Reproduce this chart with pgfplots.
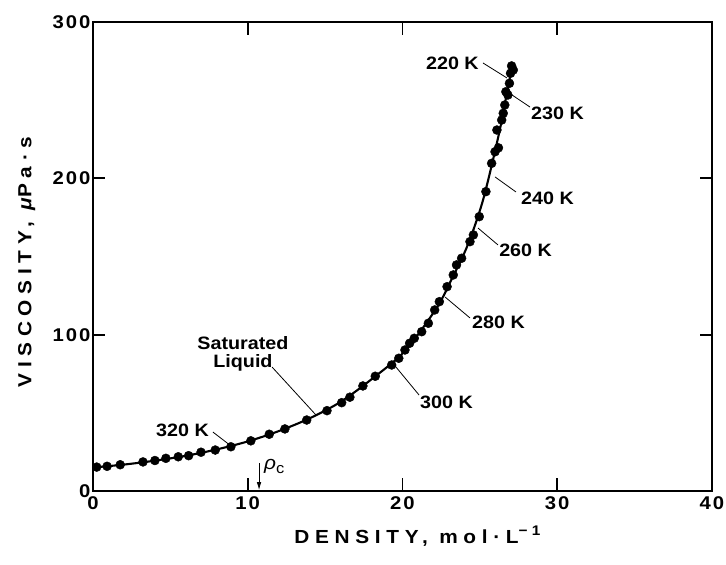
\documentclass[border=0pt]{standalone}
\usepackage{fontspec}
\usepackage{pgfplots}
\pgfplotsset{compat=1.18}
\usetikzlibrary{arrows.meta}
\setmainfont{Liberation Sans}
\newfontfamily\tickfont[FakeStretch=1.1,LetterSpace=11]{Liberation Sans}
\newfontfamily\labfont[FakeStretch=1.1]{Liberation Sans}
\newfontfamily\axfont[FakeStretch=1.1,LetterSpace=30]{Liberation Sans}
\begin{document}
\begin{tikzpicture}
\begin{axis}[name=ax, scale only axis, width=619bp, height=469bp,
  xmin=0, xmax=40, ymin=0, ymax=300,
  xtick={0,10,20,30,40}, ytick={0,100,200,300},
  tick pos=both, tick align=inside, major tick length=12bp,
  every tick/.style={black, line width=1.5pt},
  axis line style={line width=1.6pt},
  /pgf/number format/assume math mode=true,
  ticklabel style={font=\tickfont\bfseries\fontsize{18.5}{20}\selectfont},
  xticklabel style={yshift=-2bp},
  yticklabel style={xshift=1bp},
  clip=false,
  xlabel={\axfont\bfseries\fontsize{19}{22}\selectfont DENSITY, mol·L\raisebox{0.8ex}{\fontsize{14}{14}\selectfont −1}},
  xlabel style={at={(axis description cs:0.524,-0.1119)}, anchor=base},
  ylabel={\axfont\bfseries\fontsize{19}{22}\selectfont VISCOSITY, {\itshape μ}Pa·s},
  ylabel style={at={(axis description cs:-0.0994,0.488)}, anchor=base, rotate=0},
]
% correlation curve
\addplot[black, line width=2.1pt, smooth, tension=0.5] coordinates {
(0,15) (2,16.9) (4,19.4) (6,22.5) (8,26.6) (10,31.7) (12,38.3) (14,46.5)
(16,57) (18,71.5) (20.15,89.5) (22.2,117) (23.2,136) (24.2,157) (25.2,186)
(26.2,227) (26.7,252) (27.1,273)};
% experimental points
\addplot[only marks, mark=*, mark size=4.5bp, black] coordinates {
(0.24,15.3) (0.91,15.8) (1.76,16.8) (3.23,18.6) (4.0,19.5) (4.71,20.9)
(5.51,21.9) (6.18,22.6) (6.98,24.8) (7.9,26.2) (8.91,28.3) (10.2,32.1)
(11.39,36.3) (12.4,39.7) (13.81,45.4) (15.12,51.4) (16.07,56.5) (16.6,60.0)
(17.44,67.2) (18.24,73.4) (19.3,80.6) (19.76,84.9) (20.16,90.2) (20.46,94.5)
(20.76,97.7) (21.24,101.9) (21.67,107.3) (22.08,115.8) (22.38,121.1)
(22.88,130.7) (23.28,138.2) (23.49,144.6) (23.82,148.9) (24.36,159.5)
(24.58,163.8) (24.96,175.5) (25.39,191.5) (25.76,209.6) (25.98,217)
(26.2,219.5) (26.1,230.9) (26.41,237.3) (26.51,241.6) (26.61,246.9)
(26.68,255.4) (26.81,253.3) (26.91,260.8) (26.98,267.2) (27.16,269.3)
(27.05,271.9)};
% tick marks (inside, all four sides)
\tikzset{tk/.style={line width=2pt, black}}
\draw[tk] (axis cs:10,0) -- (axis cs:10,8);
\draw[tk] (axis cs:20,0) -- (axis cs:20,8);
\draw[tk] (axis cs:30,0) -- (axis cs:30,8);
\draw[tk] (axis cs:10,300) -- (axis cs:10,292);
\draw[tk] (axis cs:20,300) -- (axis cs:20,292);
\draw[tk] (axis cs:30,300) -- (axis cs:30,292);
\draw[tk] (axis cs:0,100) -- (axis cs:0.8,100);
\draw[tk] (axis cs:0,200) -- (axis cs:0.8,200);
\draw[tk] (axis cs:40,100) -- (axis cs:39.2,100);
\draw[tk] (axis cs:40,200) -- (axis cs:39.2,200);
% annotations
\tikzset{lab/.style={font=\labfont\bfseries\fontsize{18}{18}\selectfont, inner sep=0pt}}
\node[lab, anchor=east] at (axis cs:24.94,273.8) {220 K};
\draw[line width=0.8pt] (axis cs:25.2,273.8) -- (axis cs:26.75,264.2);
\node[lab, anchor=west] at (axis cs:28.3,241.8) {230 K};
\draw[line width=0.8pt] (axis cs:27.08,253.3) -- (axis cs:28.24,245.6);
\node[lab, anchor=west] at (axis cs:27.66,187.4) {240 K};
\draw[line width=0.8pt] (axis cs:25.98,200.9) -- (axis cs:27.33,191.3);
\node[lab, anchor=west] at (axis cs:26.24,154.2) {260 K};
\draw[line width=0.8pt] (axis cs:24.88,168.2) -- (axis cs:26.17,157.4);
\node[lab, anchor=west] at (axis cs:24.49,108.1) {280 K};
\draw[line width=0.8pt] (axis cs:22.75,124.1) -- (axis cs:24.36,110.7);
\node[lab, anchor=west] at (axis cs:21.13,56.9) {300 K};
\draw[line width=0.8pt] (axis cs:19.52,80) -- (axis cs:21.07,61.4);
\node[lab, anchor=east] at (axis cs:7.5,39) {320 K};
\draw[line width=0.8pt] (axis cs:7.75,37.7) -- (axis cs:8.92,28.8);
\node[lab, align=center, font=\labfont\bfseries\fontsize{18}{18.5}\selectfont] at (axis cs:9.69,87.6) {Saturated\\Liquid};
\draw[line width=0.8pt] (axis cs:11.57,79.3) -- (axis cs:14.41,48.6);
\draw[line width=0.9pt, -{Latex[length=8bp,width=4.5bp]}] (axis cs:10.73,17.9) -- (axis cs:10.73,0.5);
\node[anchor=west, inner sep=0pt, font=\labfont\fontsize{19}{20}\selectfont] at (axis cs:11.05,15.5) {{\itshape ρ}\raisebox{-0.4ex}{\fontsize{15}{15}\selectfont c}};
\end{axis}
\pgfresetboundingbox
\path ([shift={(-93bp,-74bp)}]ax.south west) rectangle ([shift={(14bp,22bp)}]ax.north east);
\end{tikzpicture}
\end{document}
